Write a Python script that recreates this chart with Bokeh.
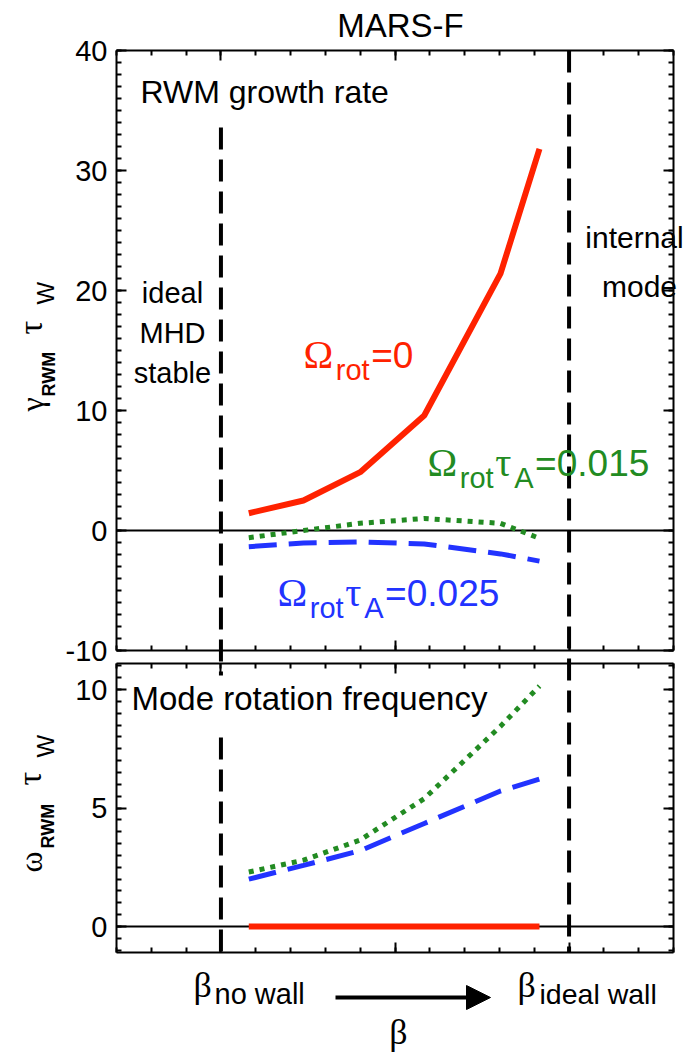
from bokeh.plotting import figure
from bokeh.models import Range1d, LinearAxis, FixedTicker, Label, Arrow, NormalHead
from bokeh.embed import file_html
from bokeh.resources import INLINE

# ---------------- data ----------------
beta = [3.8, 5.37, 7.0, 8.84, 11.03, 12.15]
growth_rot0 = [1.44, 2.5, 4.86, 9.58, 21.4, 31.8]
growth_rot015 = [-0.6, 0.0, 0.6, 1.0, 0.6, -0.65]
growth_rot025 = [-1.35, -1.05, -0.95, -1.12, -1.95, -2.55]
freq_rot0 = [0.0, 0.0, 0.0, 0.0, 0.0, 0.0]
freq_rot015 = [2.3, 2.8, 3.65, 5.4, 8.45, 10.15]
freq_rot025 = [2.0, 2.58, 3.2, 4.35, 5.72, 6.22]
beta_no_wall = 3
beta_ideal_wall = 13
x_lim = (0, 16)
x_major = [3, 8, 13]
x_minor = list(range(0, 17))
top_y_lim = (-10, 40)
top_y_ticks = [-10, 0, 10, 20, 30, 40]
top_y_minor = list(range(-10, 41))
bot_y_lim = (-1.1, 11.1)
bot_y_ticks = [0, 5, 10]
bot_y_minor = [k / 2 for k in range(-2, 23)]

RED = "#ff2200"
GREEN = "#228b22"
BLUE = "#2233ff"
SANS = "Liberation Sans"
SERIF = "Liberation Serif"

W, H = 691, 1055
# pixel geometry of the two panel boxes
XL, XR = 116, 673
XS = (XR - XL) / (x_lim[1] - x_lim[0])
TOP_Y0, TOP_S = 530.0, 12.0            # pixel row of y=0 and px per unit (top panel)
BOT_Y0, BOT_S = 926.0, 289 / 12.2      # same for the bottom panel
K_BASE = 0.37                          # baseline correction (fraction of font size)


def px2x(px):
    return x_lim[0] + (px - XL) / XS


def ty(py):
    return (TOP_Y0 - py) / TOP_S


def by(py):
    return (BOT_Y0 - py) / BOT_S


p = figure(width=W, height=H, x_range=Range1d(px2x(0), px2x(W)),
           y_range=Range1d(ty(H), ty(0)), x_axis_type=None, y_axis_type=None,
           toolbar_location=None, output_backend="svg", min_border=0,
           outline_line_color=None, background_fill_color="white",
           border_fill_color="white")
p.extra_y_ranges = {"bot": Range1d(by(H), by(0))}


def style_axis(ax, labels):
    ax.axis_line_color = "black"
    ax.axis_line_width = 2
    ax.major_tick_in = 10
    ax.major_tick_out = 0
    ax.minor_tick_in = 5
    ax.minor_tick_out = 0
    ax.major_tick_line_width = 2
    ax.minor_tick_line_width = 2
    ax.major_tick_line_color = "black"
    ax.minor_tick_line_color = "black"
    if labels:
        ax.major_label_text_font = SANS
        ax.major_label_text_font_size = "29px"
        ax.major_label_text_color = "black"
        ax.major_label_standoff = 9
    else:
        ax.major_label_text_font_size = "0px"
        ax.major_label_standoff = 0


def panel_axes(ylim, yticks, yminor, rng):
    for loc, xloc in (("left", x_lim[0]), ("right", x_lim[1])):
        ax = LinearAxis(ticker=FixedTicker(ticks=yticks, minor_ticks=yminor),
                        fixed_location=xloc, bounds=ylim, y_range_name=rng)
        style_axis(ax, loc == "left")
        if loc == "left":
            ax.major_label_overrides = {t: str(t) for t in yticks}
        else:
            ax.major_label_overrides = {t: "" for t in yticks}
        p.add_layout(ax, loc)
    for loc, yloc in (("below", ylim[0]), ("above", ylim[1])):
        ax = LinearAxis(ticker=FixedTicker(ticks=x_major, minor_ticks=x_minor),
                        fixed_location=yloc, bounds=x_lim, y_range_name=rng)
        style_axis(ax, False)
        ax.major_label_overrides = {t: "" for t in x_major}
        p.add_layout(ax, loc)


panel_axes(top_y_lim, top_y_ticks, top_y_minor, "default")
panel_axes(bot_y_lim, bot_y_ticks, bot_y_minor, "bot")

# zero lines
p.segment(x0=[x_lim[0]], y0=[0], x1=[x_lim[1]], y1=[0], line_color="black", line_width=2)
p.segment(x0=[x_lim[0]], y0=[0], x1=[x_lim[1]], y1=[0], line_color="black", line_width=2,
          y_range_name="bot")

# beta limits (dashed verticals)
p.segment(x0=[beta_no_wall, beta_ideal_wall], y0=[ty(127), top_y_lim[1]],
          x1=[beta_no_wall, beta_ideal_wall], y1=[ty(675), ty(952)],
          line_color="black", line_width=4, line_dash="22 10")
p.segment(x0=[beta_no_wall], y0=[by(737)], x1=[beta_no_wall], y1=[bot_y_lim[0]],
          line_color="black", line_width=4, line_dash="22 10", y_range_name="bot")

# curves, top panel
p.line(beta, growth_rot0, line_color=RED, line_width=6)
p.line(beta, growth_rot015, line_color=GREEN, line_width=5, line_dash="5 6")
p.line(beta, growth_rot025, line_color=BLUE, line_width=5, line_dash="28 12")
# curves, bottom panel
p.line(beta, freq_rot0, line_color=RED, line_width=6, y_range_name="bot")
p.line(beta, freq_rot015, line_color=GREEN, line_width=5, line_dash="5 6", y_range_name="bot")
p.line(beta, freq_rot025, line_color=BLUE, line_width=5, line_dash="28 12", y_range_name="bot")


def lab(fy, px, py, text, size, color="black", font=SANS, align="left", angle=0.0,
        style="normal", rng="default"):
    if angle == 0.0:
        xo, yo = 0, K_BASE * size
    else:
        xo, yo = -K_BASE * size, 0
    p.add_layout(Label(x=px2x(px), y=fy(py), text=text, text_font=font,
                       text_font_size=f"{size}px", text_color=color, text_align=align,
                       text_baseline="alphabetic", angle=angle, text_font_style=style,
                       x_offset=xo, y_offset=yo, y_range_name=rng))


EM = {"Ω": 0.77, "τ": 0.44, "r": 0.333, "o": 0.556, "t": 0.278, "A": 0.667,
      "=": 0.584, ".": 0.278, "0": 0.556, "1": 0.556, "2": 0.556, "5": 0.556}


def omega_label(px, py, tail, color, with_tau=True):
    parts = [("Ω", 40, SERIF, 0), ("rot", 29, SANS, 11)]
    if with_tau:
        parts += [("τ", 40, SERIF, 0), ("A", 29, SANS, 11)]
    parts += [(tail, 37, SANS, 0)]
    x = px
    for text, size, font, drop in parts:
        lab(ty, x, py + drop, text, size, color, font)
        x += sum(EM[c] for c in text) * size + 1.5


# ---------------- top panel texts ----------------
lab(ty, 400, 37, "MARS-F", 33, align="center")
lab(ty, 140, 103, "RWM growth rate", 32)
lab(ty, 172, 303, "ideal", 29, align="center")
lab(ty, 172, 343, "MHD", 29, align="center")
lab(ty, 172, 383, "stable", 29, align="center")
lab(ty, 634, 248, "internal", 30, align="center")
lab(ty, 639, 297, "mode", 30, align="center")
omega_label(303, 369, "=0", RED, with_tau=False)
omega_label(427, 477, "=0.015", GREEN)
omega_label(277, 607, "=0.025", BLUE)

ROT = 1.5707963
lab(ty, 43, 411, "γ", 32, font=SERIF, angle=ROT)
lab(ty, 55, 396, "RWM", 18, angle=ROT, style="bold")
lab(ty, 43, 334, "τ", 34, font=SERIF, angle=ROT)
lab(ty, 54, 304, "W", 24, angle=ROT)

# ---------------- bottom panel texts ----------------
lab(by, 131, 710, "Mode rotation frequency", 33, rng="bot")
lab(by, 42, 872, "ω", 32, font=SERIF, angle=ROT, rng="bot")
lab(by, 54, 848, "RWM", 18, angle=ROT, style="bold", rng="bot")
lab(by, 42, 785, "τ", 34, font=SERIF, angle=ROT, rng="bot")
lab(by, 54, 757, "W", 24, angle=ROT, rng="bot")

lab(by, 193, 998, "β", 36, font=SERIF, rng="bot")
lab(by, 214, 1004, "no wall", 29, rng="bot")
lab(by, 517, 998, "β", 36, font=SERIF, rng="bot")
lab(by, 539, 1004, "ideal wall", 28.5, rng="bot")
lab(by, 398, 1045, "β", 36, font=SERIF, align="center", rng="bot")
p.add_layout(Arrow(end=NormalHead(size=24, fill_color="black", line_color="black"),
                   x_start=px2x(335), y_start=by(997), x_end=px2x(490), y_end=by(997),
                   line_color="black", line_width=4, y_range_name="bot"))

open("out.html", "w").write(file_html(p, INLINE))
